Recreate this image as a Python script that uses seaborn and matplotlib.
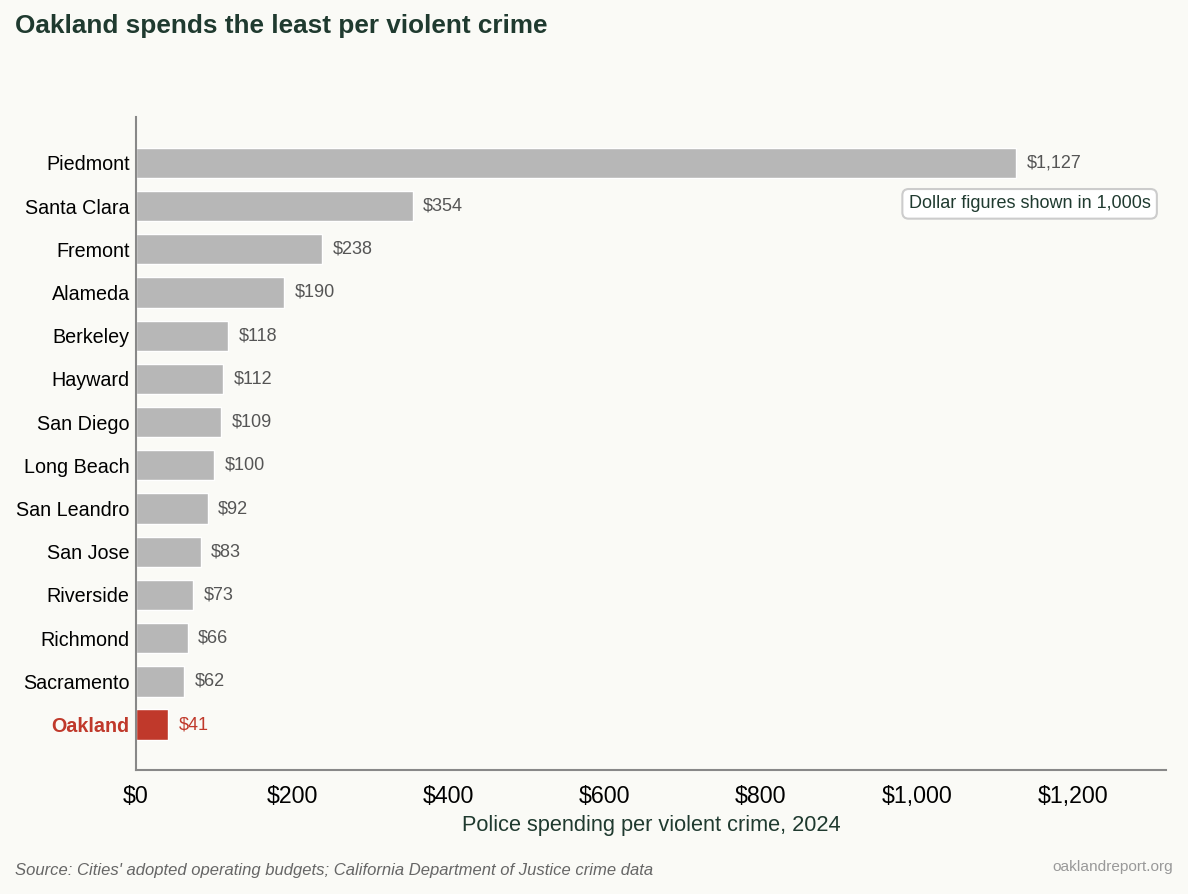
import pandas as pd
import matplotlib
matplotlib.use("Agg")
import matplotlib.pyplot as plt
import seaborn as sns

cities = [
    "Piedmont", "Santa Clara", "Fremont", "Alameda", "Berkeley", "Hayward",
    "San Diego", "Long Beach", "San Leandro", "San Jose", "Riverside",
    "Richmond", "Sacramento", "Oakland",
]
spending = [1127, 354, 238, 190, 118, 112, 109, 100, 92, 83, 73, 66, 62, 41]
x_ticks = [0, 200, 400, 600, 800, 1000, 1200]

BG = "#fafaf6"
GRAY = "#b7b7b7"
RED = "#c0392b"
DARK = "#1f3a2f"

df = pd.DataFrame({"city": cities, "spend": spending})
palette = {c: (RED if c == "Oakland" else GRAY) for c in cities}

sns.set_theme(style="white")
plt.rcParams["font.family"] = ["Liberation Sans", "DejaVu Sans"]

fig = plt.figure(figsize=(11.88, 8.94), dpi=100, facecolor=BG)
ax = fig.add_axes([136 / 1188, 1 - 770 / 894, 1030 / 1188, 653 / 894])
ax.set_facecolor(BG)

sns.barplot(data=df, y="city", x="spend", hue="city", palette=palette,
            order=cities, width=0.7, legend=False, ax=ax, saturation=1)

ax.set_xlim(0, max(spending) * 1.17)
ax.set_ylim(len(cities) - 1 + 1.05, -1.06)

# value labels right of each bar
for i, (c, v) in enumerate(zip(cities, spending)):
    ax.annotate(f"${v:,}", (v, i), xytext=(7.5, 0), textcoords="offset points",
                ha="left", va="center", fontsize=13,
                color=RED if c == "Oakland" else "#555555")

ax.set_xticks(x_ticks)
ax.set_xticklabels([f"${t:,}" for t in x_ticks], fontsize=16.7, color="black")
ax.tick_params(axis="x", length=5, width=1.5, color="#333333", pad=5.5)
ax.tick_params(axis="y", length=0, pad=4.5, labelsize=14.2)
for lbl in ax.get_yticklabels():
    if lbl.get_text() == "Oakland":
        lbl.set_color(RED)
        lbl.set_fontweight("bold")
    else:
        lbl.set_color("black")

ax.set_ylabel("")
ax.set_xlabel("Police spending per violent crime, 2024", fontsize=15.7,
              color=DARK, labelpad=5)

for s in ["top", "right"]:
    ax.spines[s].set_visible(False)
for s in ["left", "bottom"]:
    ax.spines[s].set_color("#888888")
    ax.spines[s].set_linewidth(1.5)

ax.text(0.985, 0.867, "Dollar figures shown in 1,000s", transform=ax.transAxes,
        ha="right", va="center", fontsize=13, color=DARK,
        bbox=dict(boxstyle="round,pad=0.35", facecolor="white",
                  edgecolor="#cccccc", linewidth=1.5))

fig.text(15 / 1188, 1 - 26 / 894, "Oakland spends the least per violent crime",
         fontsize=18.8, fontweight="bold", color=DARK, va="center", ha="left")
fig.text(15 / 1188, 1 - 870 / 894,
         "Source: Cities' adopted operating budgets; California Department of Justice crime data",
         fontsize=12, style="italic", color="#666666", va="center", ha="left")
fig.text(1173 / 1188, 1 - 867 / 894, "oaklandreport.org", fontsize=11.1,
         color="#999999", va="center", ha="right")

fig.savefig("out.png", dpi=100, facecolor=BG)
